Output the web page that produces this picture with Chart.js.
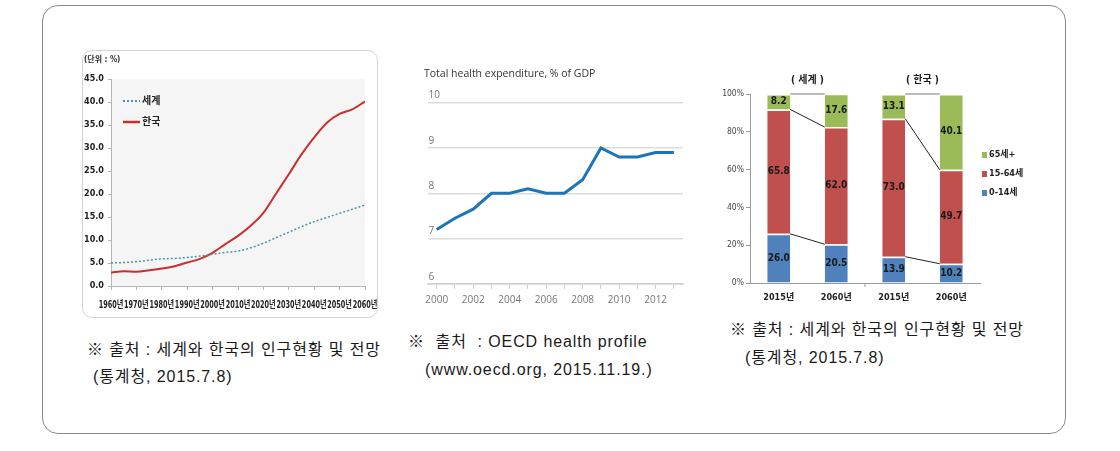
<!DOCTYPE html>
<html lang="ko">
<head>
<meta charset="UTF-8">
<title>고령인구 비율과 보건지출</title>
<script src="https://cdn.jsdelivr.net/npm/chart.js"></script>
<style>
    body { margin: 0; width: 1120px; height: 451px; background: #fff; position: relative; overflow: hidden; font-family: 'Liberation Sans', 'Noto Sans CJK KR', sans-serif; }
    .frame { position: absolute; left: 42px; top: 5px; width: 1022px; height: 427px; border: 1.5px solid #8a8a8a; border-radius: 16px; }
    .box1 { position: absolute; left: 82px; top: 50px; width: 294px; height: 266px; border: 1px solid #d4d4d4; border-radius: 10px; }
    canvas { position: absolute; }
    .note { position: absolute; font-size: 16px; color: #1a1a1a; white-space: pre; line-height: 1; letter-spacing: 0.9px; }
</style>
</head>
<body>
<div class="frame"></div>
<div class="box1"></div>
<canvas id="agingChart" width="296" height="268" style="left:82px;top:50px"></canvas>
<canvas id="healthChart" width="275" height="250" style="left:420px;top:62px"></canvas>
<canvas id="popChart" width="350" height="250" style="left:715px;top:60px"></canvas>

<div class="note" style="left:87px;top:342px">※ 출처 : 세계와 한국의 인구현황 및 전망</div>
<div class="note" style="left:93px;top:369px">(통계청, 2015.7.8)</div>
<div class="note" style="left:408px;top:334px">※  출처  : OECD health profile</div>
<div class="note" style="left:425px;top:362px">(www.oecd.org, 2015.11.19.)</div>
<div class="note" style="left:730px;top:322px">※ 출처 : 세계와 한국의 인구현황 및 전망</div>
<div class="note" style="left:745px;top:350px">(통계청, 2015.7.8)</div>

<script>
    // ---- data ----
    // 65세 이상 인구 비율 (%)
    const agingYears = [1960, 1965, 1970, 1975, 1980, 1985, 1990, 1995, 2000, 2005, 2010,
                        2015, 2020, 2025, 2030, 2035, 2040, 2045, 2050, 2055, 2060];
    const worldAged = [5.0, 5.1, 5.3, 5.6, 5.9, 6.0, 6.2, 6.5, 6.9, 7.3, 7.6,
                       8.3, 9.3, 10.5, 11.7, 12.9, 14.0, 14.9, 15.8, 16.7, 17.6];
    const koreaAged = [2.9, 3.2, 3.1, 3.4, 3.8, 4.3, 5.1, 5.9, 7.2, 9.1, 10.9,
                       13.1, 15.9, 20.1, 24.3, 28.6, 32.3, 35.5, 37.4, 38.4, 40.1];

    // Total health expenditure, % of GDP
    const healthYears = ['2000', '2001', '2002', '2003', '2004', '2005', '2006',
                         '2007', '2008', '2009', '2010', '2011', '2012', '2013'];
    const healthSpend = [7.2, 7.45, 7.65, 8.0, 8.0, 8.1, 8.0, 8.0, 8.3, 9.0, 8.8, 8.8, 8.9, 8.9];

    // 연령구조 (%)
    const popGroups = ['2015년', '2060년', '2015년', '2060년'];
    const groupTitles = ['( 세계 )', '( 한국 )'];
    const young = [26.0, 20.5, 13.9, 10.2];
    const working = [65.8, 62.0, 73.0, 49.7];
    const elderly = [8.2, 17.6, 13.1, 40.1];

    const narrow = "'Liberation Sans Narrow', 'DejaVu Sans Condensed', 'Noto Sans CJK KR', sans-serif";
    const plain = "'Open Sans', 'Noto Sans', sans-serif";

    // ---- chart 1 : 고령인구 비율 ----
    const agingPlugin = {
        id: 'agingExtras',
        beforeDraw(chart) {
            const { ctx, chartArea: a } = chart;
            ctx.save();
            ctx.fillStyle = '#f5f5f5';
            ctx.fillRect(a.left, a.top, a.width, a.height);
            ctx.restore();
        },
        afterDraw(chart) {
            const { ctx, chartArea: a, scales } = chart;
            ctx.save();
            ctx.fillStyle = '#333';
            ctx.font = "bold 8px " + narrow;
            ctx.textBaseline = 'middle';
            ctx.fillText('(단위 : %)', 2, 10);
            // year labels, condensed so they fit side by side
            ctx.font = "bold 10px " + narrow;
            ctx.fillStyle = '#222';
            ctx.textAlign = 'center';
            scales.x.ticks.forEach(t => {
                ctx.save();
                ctx.translate(scales.x.getPixelForValue(t.value), a.bottom + 19);
                ctx.scale(0.72, 1);
                ctx.fillText(t.value + '년', 0, 0);
                ctx.restore();
            });
            // legend inside plot
            ctx.textAlign = 'left';
            chart.data.datasets.forEach((ds, i) => {
                const y = a.top + 22 + i * 21;
                ctx.strokeStyle = ds.borderColor;
                ctx.lineWidth = ds.borderWidth + 0.5;
                ctx.setLineDash(ds.borderDash || []);
                ctx.beginPath();
                ctx.moveTo(a.left + 12, y);
                ctx.lineTo(a.left + 29, y);
                ctx.stroke();
                ctx.setLineDash([]);
                ctx.fillStyle = '#222';
                ctx.font = "bold 10px " + narrow;
                ctx.fillText(ds.label, a.left + 31, y);
            });
            ctx.restore();
        }
    };

    new Chart(document.getElementById('agingChart'), {
        type: 'line',
        data: {
            datasets: [
                {
                    label: '세계',
                    data: agingYears.map((x, i) => ({ x: x, y: worldAged[i] })),
                    borderColor: '#4a94b0',
                    borderWidth: 1.5,
                    borderDash: [2, 2],
                    pointRadius: 0,
                    cubicInterpolationMode: 'monotone'
                },
                {
                    label: '한국',
                    data: agingYears.map((x, i) => ({ x: x, y: koreaAged[i] })),
                    borderColor: '#c8302c',
                    borderWidth: 2,
                    pointRadius: 0,
                    cubicInterpolationMode: 'monotone'
                }
            ]
        },
        options: {
            responsive: false,
            animation: false,
            layout: { padding: { top: 29, right: 13, left: 0, bottom: 0 } },
            plugins: { legend: { display: false }, tooltip: { enabled: false } },
            scales: {
                x: {
                    type: 'linear', min: 1960, max: 2060,
                    ticks: { stepSize: 10, display: false },
                    grid: { drawOnChartArea: false, tickLength: 4, color: '#b5b5b5' },
                    border: { color: '#b5b5b5' },
                    afterFit: s => { s.height = 32; }
                },
                y: {
                    min: 0, max: 45,
                    ticks: { stepSize: 5, callback: v => v.toFixed(1), padding: 4,
                             color: '#222', font: { family: narrow, size: 9, weight: 'bold' } },
                    grid: { drawOnChartArea: false, tickLength: 3, color: '#b5b5b5' },
                    border: { color: '#b5b5b5' },
                    afterFit: s => { s.width = 29; }
                }
            }
        },
        plugins: [agingPlugin]
    });

    // ---- chart 2 : OECD health expenditure ----
    new Chart(document.getElementById('healthChart'), {
        type: 'line',
        data: {
            labels: healthYears,
            datasets: [{
                label: 'Total health expenditure, % of GDP',
                data: healthSpend,
                borderColor: '#1b75b8',
                borderWidth: 3,
                pointRadius: 0,
                tension: 0
            }]
        },
        options: {
            responsive: false,
            animation: false,
            layout: { padding: { top: 0, right: 12, left: 4, bottom: 0 } },
            plugins: {
                legend: { display: false },
                tooltip: { enabled: false },
                title: {
                    display: true, text: 'Total health expenditure, % of GDP', align: 'start',
                    color: '#333', font: { family: plain, size: 10.5, weight: 'normal' },
                    padding: { top: 6, bottom: 22 }
                }
            },
            scales: {
                x: {
                    type: 'category', offset: true,
                    grid: { offset: false, drawOnChartArea: false, tickLength: 5, color: '#cfcfcf' },
                    border: { color: '#cfcfcf', width: 1.5 },
                    ticks: {
                        autoSkip: false, maxRotation: 0, padding: 5, color: '#777',
                        font: { family: plain, size: 10 },
                        callback(v, i) { return i % 2 === 0 ? this.getLabelForValue(v) : ''; }
                    },
                    afterFit: s => { s.height = 28; }
                },
                y: {
                    min: 6, max: 10,
                    ticks: { stepSize: 1, mirror: true, padding: 1, labelOffset: -7, color: '#777',
                             font: { family: plain, size: 10 } },
                    grid: { color: '#dcdcdc', lineWidth: 1.5, drawTicks: false },
                    border: { display: false },
                    afterFit: s => { s.width = 3; }
                }
            }
        }
    });

    // ---- chart 3 : 연령구조 ----
    const popPlugin = {
        id: 'popExtras',
        afterDatasetsDraw(chart) {
            const { ctx, chartArea: a, scales } = chart;
            const metas = chart.data.datasets.map((d, i) => chart.getDatasetMeta(i));
            ctx.save();
            // connector lines between 2015 and 2060 bars
            [[0, 1], [2, 3]].forEach(([p, q]) => {
                metas.forEach((m, k) => {
                    const b1 = m.data[p], b2 = m.data[q];
                    ctx.strokeStyle = k === metas.length - 1 ? '#777' : '#222';
                    ctx.lineWidth = 1;
                    ctx.beginPath();
                    ctx.moveTo(b1.x + b1.width / 2, Math.max(b1.y, a.top));
                    ctx.lineTo(b2.x - b2.width / 2, Math.max(b2.y, a.top));
                    ctx.stroke();
                });
            });
            // value labels
            ctx.fillStyle = '#1a1a1a';
            ctx.font = "bold 10px " + narrow;
            ctx.textAlign = 'center';
            ctx.textBaseline = 'middle';
            metas.forEach((m, k) => {
                m.data.forEach((bar, j) => {
                    const v = chart.data.datasets[k].data[j];
                    ctx.fillText(v.toFixed(1), bar.x, (Math.max(bar.y, a.top) + bar.base) / 2);
                });
            });
            // group titles
            groupTitles.forEach((t, g) => {
                const x = (scales.x.getPixelForValue(g * 2) + scales.x.getPixelForValue(g * 2 + 1)) / 2;
                ctx.fillText(t, x, a.top - 14);
            });
            // separator tick between the two groups
            const sx = (scales.x.getPixelForValue(1) + scales.x.getPixelForValue(2)) / 2;
            ctx.strokeStyle = '#999';
            ctx.beginPath();
            ctx.moveTo(sx, a.bottom);
            ctx.lineTo(sx, a.bottom + 4);
            ctx.stroke();
            // legend (reverse order)
            ctx.textAlign = 'left';
            ctx.font = "bold 9px " + narrow;
            const order = metas.map((m, k) => k).reverse();
            order.forEach((k, r) => {
                const ds = chart.data.datasets[k];
                const y = a.top + 61 + r * 19;
                ctx.fillStyle = ds.backgroundColor;
                ctx.fillRect(a.right + 2, y - 3, 5, 6);
                ctx.fillStyle = '#222';
                ctx.fillText(ds.label, a.right + 9, y);
            });
            ctx.restore();
        }
    };

    new Chart(document.getElementById('popChart'), {
        type: 'bar',
        data: {
            labels: popGroups,
            datasets: [
                { label: '0-14세', data: young, backgroundColor: '#4f81bd' },
                { label: '15-64세', data: working, backgroundColor: '#c0504d' },
                { label: '65세+', data: elderly, backgroundColor: '#9bbb59' }
            ].map(d => Object.assign(d, {
                borderColor: '#ffffff',
                borderWidth: { top: 1.5, left: 0, right: 0, bottom: 0 },
                borderSkipped: false,
                barPercentage: 0.4,
                categoryPercentage: 1
            }))
        },
        options: {
            responsive: false,
            animation: false,
            layout: { padding: { top: 34, right: 85, left: 0, bottom: 0 } },
            plugins: { legend: { display: false }, tooltip: { enabled: false } },
            scales: {
                x: {
                    stacked: true,
                    grid: { display: false, drawTicks: false },
                    border: { color: '#999' },
                    ticks: { padding: 9, color: '#222', font: { family: narrow, size: 9, weight: 'bold' } },
                    afterFit: s => { s.height = 27; }
                },
                y: {
                    stacked: true, min: 0, max: 100,
                    ticks: { stepSize: 20, callback: v => v + '%', padding: 2, color: '#444',
                             font: { family: narrow, size: 8.5 } },
                    grid: { drawOnChartArea: false, tickLength: 4, color: '#999' },
                    border: { color: '#999' },
                    afterFit: s => { s.width = 35; }
                }
            }
        },
        plugins: [popPlugin]
    });
</script>
</body>
</html>
